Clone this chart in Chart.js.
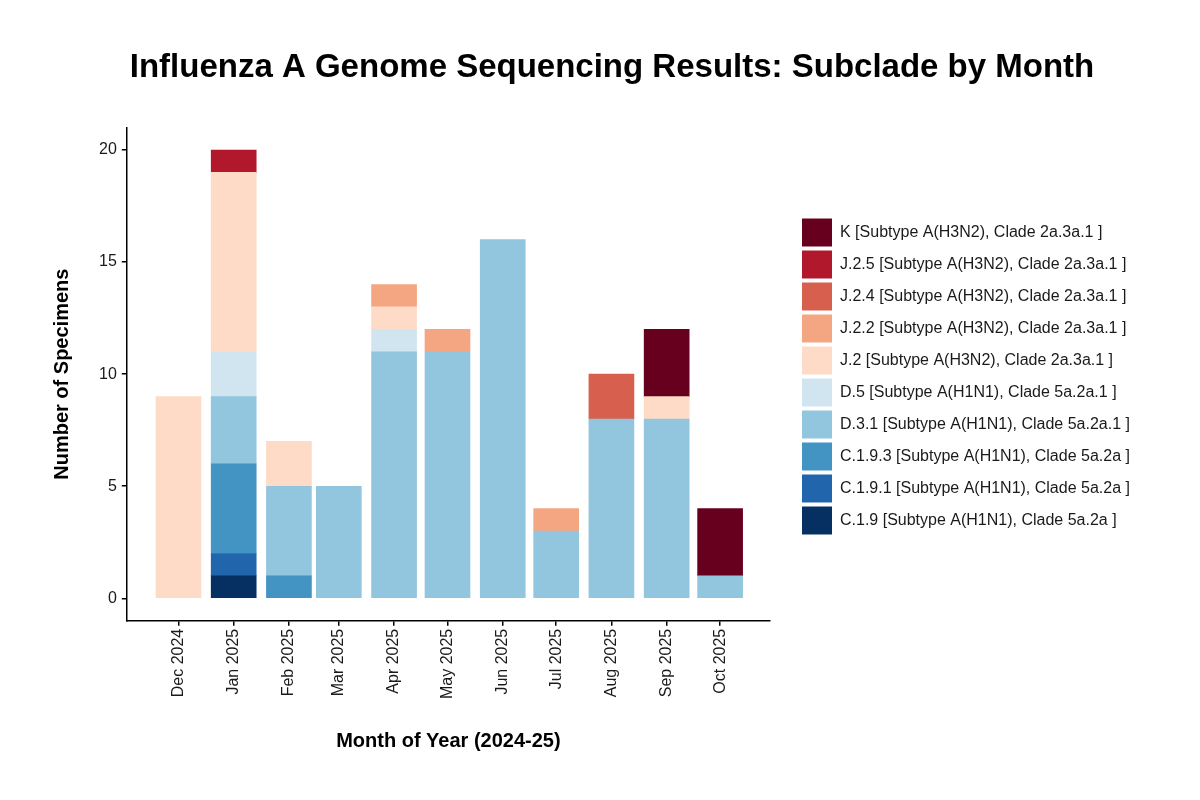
<!DOCTYPE html>
<html>
<head>
<meta charset="utf-8">
<title>Influenza A Subclade by Month</title>
<script src="https://cdn.jsdelivr.net/npm/chart.js@4.4.1/dist/chart.umd.min.js"></script>
<style>
  html, body { margin: 0; padding: 0; background: #fff; }
  #wrap { width: 1200px; height: 800px; }
</style>
</head>
<body>
<div id="wrap"><canvas id="chart"></canvas></div>
<script>
// months (first day) and their axis labels
const months = ['2024-12-01', '2025-01-01', '2025-02-01', '2025-03-01', '2025-04-01', '2025-05-01',
                '2025-06-01', '2025-07-01', '2025-08-01', '2025-09-01', '2025-10-01'];
const monthLabels = ['Dec 2024', 'Jan 2025', 'Feb 2025', 'Mar 2025', 'Apr 2025', 'May 2025',
                     'Jun 2025', 'Jul 2025', 'Aug 2025', 'Sep 2025', 'Oct 2025'];

// specimens per subclade, same order as months
const c19   = [0, 1, 0, 0, 0, 0, 0, 0, 0, 0, 0];
const c191  = [0, 1, 0, 0, 0, 0, 0, 0, 0, 0, 0];
const c193  = [0, 4, 1, 0, 0, 0, 0, 0, 0, 0, 0];
const d31   = [0, 3, 4, 5, 11, 11, 16, 3, 8, 8, 1];
const d5    = [0, 2, 0, 0, 1, 0, 0, 0, 0, 0, 0];
const j2    = [9, 8, 2, 0, 1, 0, 0, 0, 0, 1, 0];
const j22   = [0, 0, 0, 0, 1, 1, 0, 1, 0, 0, 0];
const j24   = [0, 0, 0, 0, 0, 0, 0, 0, 2, 0, 0];
const j25   = [0, 1, 0, 0, 0, 0, 0, 0, 0, 0, 0];
const kk    = [0, 0, 0, 0, 0, 0, 0, 0, 0, 3, 3];

const yTicks = [0, 5, 10, 15, 20];

// x position = days since first month (ggplot date axis)
const day0 = Date.parse(months[0]);
const monthDays = months.map(m => (Date.parse(m) - day0) / 86400000);

const series = [
  { label: 'C.1.9 [Subtype A(H1N1), Clade 5a.2a ]',     data: c19,  color: '#053061' },
  { label: 'C.1.9.1 [Subtype A(H1N1), Clade 5a.2a ]',   data: c191, color: '#2166AC' },
  { label: 'C.1.9.3 [Subtype A(H1N1), Clade 5a.2a ]',   data: c193, color: '#4393C3' },
  { label: 'D.3.1 [Subtype A(H1N1), Clade 5a.2a.1 ]',   data: d31,  color: '#92C5DE' },
  { label: 'D.5 [Subtype A(H1N1), Clade 5a.2a.1 ]',     data: d5,   color: '#D1E5F0' },
  { label: 'J.2 [Subtype A(H3N2), Clade 2a.3a.1 ]',     data: j2,   color: '#FDDBC7' },
  { label: 'J.2.2 [Subtype A(H3N2), Clade 2a.3a.1 ]',   data: j22,  color: '#F4A582' },
  { label: 'J.2.4 [Subtype A(H3N2), Clade 2a.3a.1 ]',   data: j24,  color: '#D6604D' },
  { label: 'J.2.5 [Subtype A(H3N2), Clade 2a.3a.1 ]',   data: j25,  color: '#B2182B' },
  { label: 'K [Subtype A(H3N2), Clade 2a.3a.1 ]',       data: kk,   color: '#67001F' }
];

const FONT = "'Liberation Sans', Arial, Helvetica, sans-serif";
const INK = '#1a1a1a';

// legend sits a little away from the plot, like ggplot's
const LEGEND_GAP = 28;
const LEGEND_WIDTH = 404;
const legendGap = {
  id: 'legendGap',
  afterInit(chart) {
    const lg = chart.legend;
    const fit = lg.fit;
    lg.fit = function () { fit.call(this); this.width = LEGEND_WIDTH; };
  },
  afterLayout(chart) {
    chart.legend.left += LEGEND_GAP;
  }
};

new Chart(document.getElementById('chart'), {
  type: 'bar',
  data: {
    datasets: series.map(s => ({
      label: s.label,
      data: s.data.map((v, i) => ({ x: monthDays[i], y: v || null })),
      backgroundColor: s.color,
      borderWidth: 0,
      barThickness: 45
    }))
  },
  plugins: [legendGap],
  options: {
    responsive: true,
    maintainAspectRatio: false,
    animation: false,
    layout: { padding: { left: 50, right: 26, top: 0, bottom: 47 } },
    plugins: {
      title: {
        display: true,
        text: 'Influenza A Genome Sequencing Results: Subclade by Month',
        color: '#000',
        font: { family: FONT, size: 33, weight: 'bold' },
        padding: { top: 48, bottom: 40 }
      },
      legend: {
        position: 'right',
        reverse: true,
        maxWidth: 420,
        labels: {
          color: INK,
          font: { family: FONT, size: 16 },
          boxWidth: 30,
          boxHeight: 28,
          padding: 4
        }
      },
      tooltip: { enabled: false }
    },
    scales: {
      x: {
        type: 'linear',
        stacked: true,
        offset: false,
        min: -29,
        max: 332,
        afterBuildTicks: axis => { axis.ticks = monthDays.map(v => ({ value: v })); },
        ticks: {
          color: INK,
          font: { family: FONT, size: 16 },
          minRotation: 90,
          maxRotation: 90,
          padding: 3,
          callback: v => monthLabels[monthDays.indexOf(v)]
        },
        grid: { display: true, offset: false, drawOnChartArea: false, drawTicks: true, tickLength: 5, color: '#000', lineWidth: 1.5 },
        border: { display: true, color: '#000', width: 1.5 },
        title: {
          display: true,
          text: 'Month of Year (2024-25)',
          color: '#000',
          font: { family: FONT, size: 20, weight: 'bold' },
          padding: { top: 27, bottom: 0 }
        }
      },
      y: {
        stacked: true,
        min: -1,
        max: 21,
        afterBuildTicks: axis => { axis.ticks = yTicks.map(v => ({ value: v })); },
        ticks: {
          color: INK,
          font: { family: FONT, size: 16 },
          padding: 5
        },
        grid: { display: true, drawOnChartArea: false, drawTicks: true, tickLength: 5, color: '#000', lineWidth: 1.5 },
        border: { display: true, color: '#000', width: 1.5 },
        title: {
          display: true,
          text: 'Number of Specimens',
          color: '#000',
          font: { family: FONT, size: 20, weight: 'bold' },
          padding: { top: 0, bottom: 20 }
        }
      }
    }
  }
});
</script>
</body>
</html>
